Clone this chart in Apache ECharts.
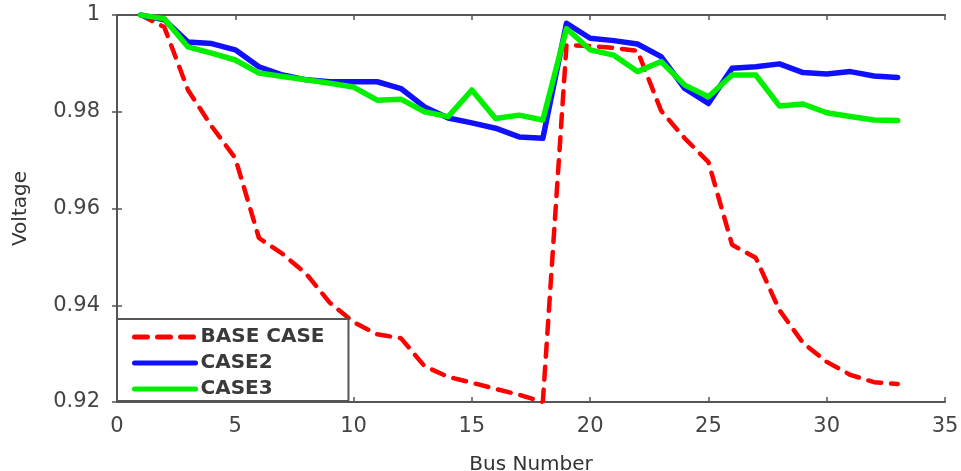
<!DOCTYPE html>
<html>
<head>
<meta charset="utf-8">
<title>Bus voltage profile</title>
<script src="https://cdn.jsdelivr.net/npm/echarts@6/dist/echarts.min.js"></script>
<style>
  html, body { margin: 0; padding: 0; background: #fff; }
  #chart { width: 961px; height: 471px; }
</style>
</head>
<body>
<div id="chart"></div>
<script>
// bus numbers 1..33 and the voltage
const busNumbers = [1, 2, 3, 4, 5, 6, 7, 8, 9, 10, 11, 12, 13, 14, 15, 16, 17,
  18, 19, 20, 21, 22, 23, 24, 25, 26, 27, 28, 29, 30, 31, 32, 33]

const baseCase = [1.0, 0.9975, 0.9845, 0.977, 0.9704, 0.9539, 0.9506, 0.9465, 0.9405, 0.9365,
  0.934, 0.9332, 0.9274, 0.9252, 0.924, 0.9227, 0.9215, 0.92, 0.9938, 0.9936,
  0.9932, 0.9926, 0.9802, 0.9745, 0.9696, 0.9525, 0.9498, 0.939, 0.9322, 0.9283,
  0.9256, 0.9241, 0.9237]

const case2 = [1.0, 0.999, 0.9944, 0.9941, 0.9928, 0.9893, 0.9876, 0.9866, 0.9862, 0.9862,
  0.9862, 0.9848, 0.981, 0.9787, 0.9777, 0.9766, 0.9748, 0.9745, 0.9983, 0.9952,
  0.9947, 0.994, 0.9914, 0.9848, 0.9817, 0.989, 0.9893, 0.9899, 0.9881, 0.9878,
  0.9883, 0.9874, 0.9871]

const case3 = [1.0, 0.9992, 0.9934, 0.9921, 0.9907, 0.988, 0.9873, 0.9866, 0.9859, 0.9851,
  0.9824, 0.9826, 0.98, 0.979, 0.9845, 0.9786, 0.9793, 0.9783, 0.9972, 0.9928,
  0.9917, 0.9883, 0.9904, 0.9855, 0.9831, 0.9876, 0.9876, 0.9812, 0.9816, 0.9798,
  0.979, 0.9783, 0.9782]

const xTicks = { min: 0, max: 35, interval: 5 }
const yTicks = { min: 0.92, max: 1, interval: 0.02 }

const chart = echarts.init(document.getElementById('chart'))

function pairs(values) {
  return busNumbers.map((b, i) => [b, values[i]])
}

const frameLine = { show: true, lineStyle: { color: '#555', width: 2 } }
const tickStyle = { show: true, inside: true, length: 5, lineStyle: { color: '#555', width: 1.5 } }
const font = 'DejaVu Sans, Verdana, sans-serif'

const option = {
  backgroundColor: '#fff',
  animation: false,
  grid: { left: 117, right: 16, top: 15, bottom: 69, containLabel: false, outerBoundsMode: 'none' },
  legend: {
    orient: 'vertical',
    left: 117,
    top: 319,
    padding: [7, 24, 1, 15],
    itemWidth: 61,
    itemHeight: 22,
    itemGap: 4,
    backgroundColor: '#fff',
    borderColor: '#555',
    borderWidth: 2,
    borderRadius: 0,
    itemStyle: { opacity: 0 },
    lineStyle: { width: 5 },
    textStyle: { color: '#3a3a3a', fontSize: 20, fontWeight: 'bold', lineHeight: 22, fontFamily: font },
    data: ['BASE CASE', 'CASE2', 'CASE3']
  },
  xAxis: [
    {
      type: 'value',
      min: xTicks.min,
      max: xTicks.max,
      interval: xTicks.interval,
      name: 'Bus Number',
      nameLocation: 'middle',
      nameGap: 53,
      nameTextStyle: { color: '#333', fontSize: 20, fontFamily: font },
      axisLine: frameLine,
      axisTick: tickStyle,
      axisLabel: { color: '#444', fontSize: 21, fontFamily: font, margin: 14 },
      splitLine: { show: false }
    },
    {
      type: 'value',
      position: 'top',
      min: xTicks.min,
      max: xTicks.max,
      interval: xTicks.interval,
      axisLine: frameLine,
      axisTick: tickStyle,
      axisLabel: { show: false },
      splitLine: { show: false }
    }
  ],
  yAxis: [
    {
      type: 'value',
      min: yTicks.min,
      max: yTicks.max,
      interval: yTicks.interval,
      name: 'Voltage',
      nameLocation: 'middle',
      nameGap: 86,
      nameTextStyle: { color: '#333', fontSize: 20, fontFamily: font },
      axisLine: frameLine,
      axisTick: tickStyle,
      axisLabel: { color: '#444', fontSize: 21, fontFamily: font, margin: 17 },
      splitLine: { show: false }
    },
    {
      type: 'value',
      position: 'right',
      min: yTicks.min,
      max: yTicks.max,
      interval: yTicks.interval,
      axisLine: frameLine,
      axisTick: tickStyle,
      axisLabel: { show: false },
      splitLine: { show: false }
    }
  ],
  series: [
    {
      name: 'BASE CASE',
      type: 'line',
      data: pairs(baseCase),
      symbol: 'none',
      clip: true,
      itemStyle: { color: '#ff0000' },
      lineStyle: { color: '#ff0000', width: 4.5, type: [13, 10], cap: 'round' }
    },
    {
      name: 'CASE2',
      type: 'line',
      data: pairs(case2),
      symbol: 'none',
      itemStyle: { color: '#1010ff' },
      lineStyle: { color: '#1010ff', width: 5.5, join: 'round', cap: 'round' }
    },
    {
      name: 'CASE3',
      type: 'line',
      data: pairs(case3),
      symbol: 'none',
      itemStyle: { color: '#00f000' },
      lineStyle: { color: '#00f000', width: 5.5, join: 'round', cap: 'round' }
    }
  ]
}

chart.setOption(option)
</script>
</body>
</html>
